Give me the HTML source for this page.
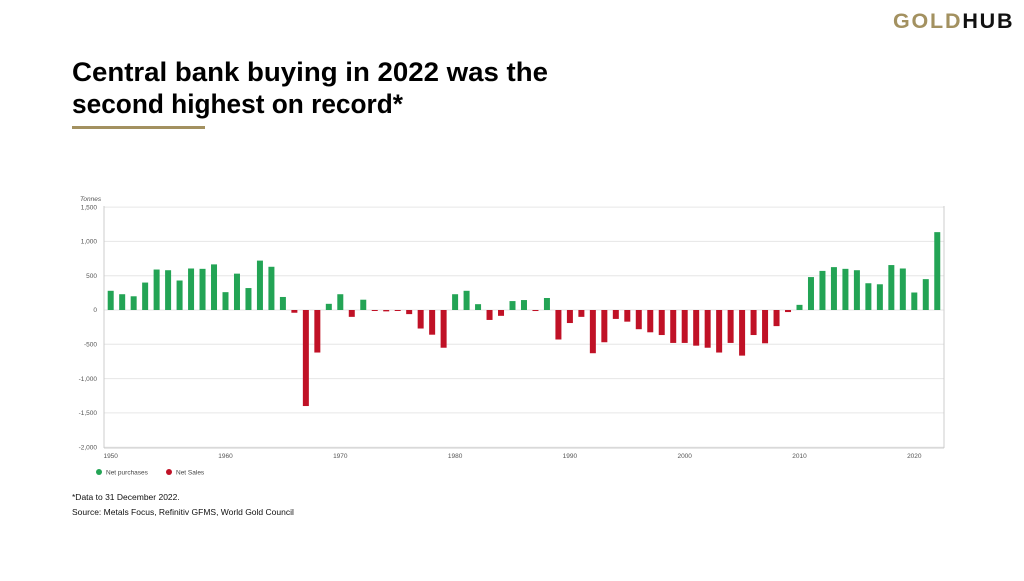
<!DOCTYPE html>
<html><head><meta charset="utf-8"><style>
html,body{margin:0;padding:0;background:#fff;}
body{width:1024px;height:576px;position:relative;overflow:hidden;font-family:"Liberation Sans",sans-serif;}
</style></head><body>
<svg width="1024" height="576" xmlns="http://www.w3.org/2000/svg" font-family="Liberation Sans, sans-serif">
<text x="893" y="28" font-size="21.5" font-weight="bold" letter-spacing="1.8" fill="#a39160">GOLD<tspan fill="#111">HUB</tspan></text>
<text x="72" y="81" font-size="27" font-weight="bold" fill="#000" textLength="476" lengthAdjust="spacingAndGlyphs">Central bank buying in 2022 was the</text>
<text x="72" y="113" font-size="27" font-weight="bold" fill="#000" textLength="331" lengthAdjust="spacingAndGlyphs">second highest on record*</text>
<rect x="72" y="126" width="133" height="3" fill="#a39160"/>
<text x="80" y="201" font-size="6.5" font-style="italic" fill="#555">Tonnes</text>
<g id="grid" stroke="#e6e6e6" stroke-width="1"></g>
<g id="labels" font-size="6.5" fill="#555" text-anchor="end"></g>
<g id="bars"></g>
<line x1="104" y1="206" x2="104" y2="448" stroke="#ccc"/>
<line x1="944" y1="206" x2="944" y2="448" stroke="#ccc"/>
<line x1="104" y1="448" x2="944" y2="448" stroke="#ccc"/>
<g id="xl" font-size="6.5" fill="#555" text-anchor="middle"></g>
<circle cx="99" cy="472" r="3" fill="#23a455"/>
<text x="106" y="474.5" font-size="6.5" fill="#444">Net purchases</text>
<circle cx="169" cy="472" r="3" fill="#c01126"/>
<text x="176" y="474.5" font-size="6.5" fill="#444">Net Sales</text>
<text x="72" y="500" font-size="8.5" fill="#111">*Data to 31 December 2022.</text>
<text x="72" y="515" font-size="8.5" fill="#111">Source: Metals Focus, Refinitiv GFMS, World Gold Council</text>
</svg>
<script>
var ns="http://www.w3.org/2000/svg";
function el(t,a,p,txt){var e=document.createElementNS(ns,t);for(var k in a)e.setAttribute(k,a[k]);if(txt!=null)e.textContent=txt;document.getElementById(p).appendChild(e);}
function Y(v){return 310-v*0.0686;}
var ticks=[1500,1000,500,0,-500,-1000,-1500,-2000];
ticks.forEach(function(t){el('line',{x1:104,x2:944,y1:Y(t),y2:Y(t)},'grid');
el('text',{x:97,y:Y(t)+2.2},'labels',t.toLocaleString('en-US'));});
var v=[280,230,200,400,590,580,430,605,600,665,260,530,320,720,630,190,-40,-1400,-620,90,230,-100,150,-10,-20,-10,-60,-270,-360,-550,230,280,85,-145,-85,130,145,-15,175,-430,-190,-100,-630,-470,-130,-170,-280,-325,-365,-480,-480,-520,-550,-620,-480,-665,-365,-485,-235,-30,75,480,570,625,600,580,390,375,655,605,255,450,1135];
v.forEach(function(d,i){var cx=110.7+11.48*i;var y0=Y(0),y1=Y(d);
el('rect',{x:cx-3,y:Math.min(y0,y1),width:6,height:Math.max(Math.abs(y1-y0),1),fill:d>=0?'#23a455':'#c01126'},'bars');});
for(var yr=1950;yr<=2020;yr+=10)el('text',{x:110.7+11.48*(yr-1950),y:458},'xl',yr);
</script>
</body></html>
